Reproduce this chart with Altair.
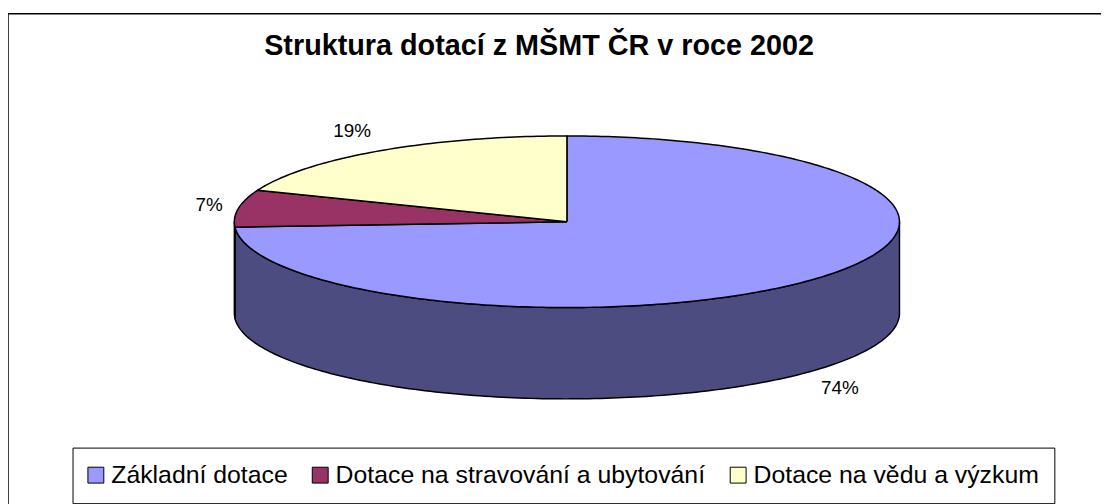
import altair as alt
import numpy as np
import pandas as pd

# ---- data ----
categories = ["Základní dotace", "Dotace na stravování a ubytování", "Dotace na vědu a výzkum"]
shares = [74, 7, 19]
share_labels = ["74%", "7%", "19%"]
top_colors = ["#9999FF", "#993366", "#FFFFCC"]
side_colors = ["#4C4C80", "#4C1933", "#80805F"]

# ---- 3D pie geometry (style constants) ----
TILT = 0.258      # vertical squash of the top ellipse
DEPTH = 0.2746    # thickness of the pie
LAB_RX = 1.048
LAB_RY = 0.33


def ell(theta, drop=0.0):
    t = np.radians(theta)
    return np.sin(t), TILT * np.cos(t) - drop


total = float(sum(shares))
starts = np.cumsum([0] + shares[:-1]) / total * 360.0
ends = np.cumsum(shares) / total * 360.0

top_rows, side_rows, lab_rows = [], [], []
for k, cat in enumerate(categories):
    a, b = starts[k], ends[k]
    n = max(int(abs(b - a)), 2) + 1
    pts = [(0.0, 0.0)] + [ell(t) for t in np.linspace(a, b, n)] + [(0.0, 0.0)]
    for i, (x, y) in enumerate(pts):
        top_rows.append({"category": cat, "i": i, "x": x, "y": y})
    s, e = max(a, 90.0), min(b, 270.0)
    if s < e:
        m = max(int(e - s), 2) + 1
        arc_t = [ell(t) for t in np.linspace(s, e, m)]
        arc_b = [ell(t, DEPTH) for t in np.linspace(e, s, m)]
        poly = arc_t + arc_b + [arc_t[0]]
        for i, (x, y) in enumerate(poly):
            side_rows.append({"slice": cat, "col": side_colors[k], "i": i, "x": x, "y": y})
    mid = np.radians((a + b) / 2)
    c = np.cos(mid)
    sn = np.sin(mid)
    lab_rows.append({
        "label": share_labels[k],
        "side": "left" if sn < 0 else "right",
        "x": LAB_RX * sn,
        "y": LAB_RY * c - (DEPTH if c < 0 else 0.0),
    })

top_df = pd.DataFrame(top_rows)
side_df = pd.DataFrame(side_rows)
lab_df = pd.DataFrame(lab_rows)

W, H = 1110, 500
PX = 335.0  # pixels per unit
xmin = -563.0 / PX
xdom = [xmin, xmin + W / PX]
ymax = 209.5 / PX
ydom = [ymax - H / PX, ymax]

X = alt.X("x:Q", scale=alt.Scale(domain=xdom, nice=False, zero=False), axis=None)
Y = alt.Y("y:Q", scale=alt.Scale(domain=ydom, nice=False, zero=False), axis=None)

sides = alt.Chart(side_df).mark_line(
    filled=True, stroke="black", strokeWidth=1.5, strokeJoin="round"
).encode(
    x=X, y=Y, order=alt.Order("i:Q"), detail="slice:N",
    color=alt.Color("col:N", scale=None),
)

tops = alt.Chart(top_df).mark_line(
    filled=True, stroke="black", strokeWidth=1.5, strokeJoin="round"
).encode(
    x=X, y=Y, order=alt.Order("i:Q"),
    color=alt.Color(
        "category:N",
        sort=categories,
        scale=alt.Scale(domain=categories, range=top_colors),
        legend=alt.Legend(
            title=None, orient="none", direction="horizontal",
            legendX=65, legendY=437,
            strokeColor="black", padding=15, columnPadding=22,
            symbolType="square", symbolSize=256, symbolStrokeColor="black",
            symbolStrokeWidth=1, symbolOpacity=1, symbolOffset=-4,
            labelFont="Liberation Sans", labelFontSize=25, labelColor="black",
            labelLimit=1000, labelOffset=3,
        ),
    ),
)

texts_left = alt.Chart(lab_df).transform_filter(
    alt.datum.side == "left"
).mark_text(
    font="Liberation Sans", fontSize=19, color="black", align="right"
).encode(x=X, y=Y, text="label:N")

texts_right = alt.Chart(lab_df).transform_filter(
    alt.datum.side == "right"
).mark_text(
    font="Liberation Sans", fontSize=19, color="black", align="left"
).encode(x=X, y=Y, text="label:N")

chart = alt.layer(sides, tops, texts_left, texts_right).properties(
    width=W, height=H,
    title=alt.TitleParams(
        "Struktura dotací z MŠMT ČR v roce 2002",
        font="Liberation Sans", fontSize=29, fontWeight="bold", color="black",
        anchor="middle", offset=-48, dx=-20,
    ),
    autosize=alt.AutoSizeParams(type="none"),
    padding={"left": 0, "top": 4, "right": -9, "bottom": -8},
).configure_view(stroke="black", strokeWidth=1.5)

chart.save("out.html", embed_options={"renderer": "svg", "actions": False})
